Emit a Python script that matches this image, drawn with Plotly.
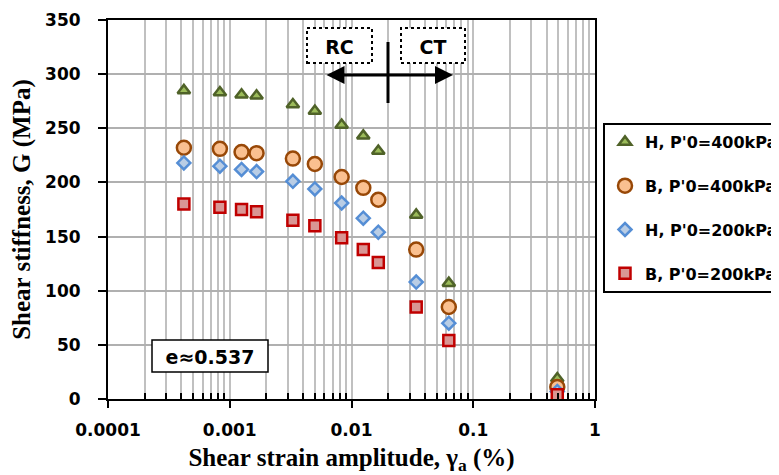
import plotly.graph_objects as go

strain = [0.00042, 0.00083, 0.00125, 0.00166, 0.0033, 0.005, 0.0083, 0.0125, 0.0166, 0.034, 0.063, 0.49]
G_H400 = [285, 283, 281, 280, 272, 266, 253, 243, 229, 170, 107, 19]
G_B400 = [232, 231, 228, 227, 222, 217, 205, 195, 184, 138, 85, 11]
G_H200 = [218, 215, 212, 210, 201, 194, 181, 167, 154, 108, 70, 7]
G_B200 = [180, 177, 175, 173, 165, 160, 149, 138, 126, 85, 54, 4]

names = ["H, P'0=400kPa", "B, P'0=400kPa", "H, P'0=200kPa", "B, P'0=200kPa"]
x_tickvals = [0.0001, 0.001, 0.01, 0.1, 1]
x_ticktext = ["0.0001", "0.001", "0.01", "0.1", "1"]
y_tickvals = [0, 50, 100, 150, 200, 250, 300, 350]

minor_vals = [m * 10 ** e for e in range(-4, 0) for m in range(2, 10)]

SANS = "'DejaVu Sans', sans-serif"
SERIF = "'Liberation Serif', 'Times New Roman', serif"
TICKFONT = dict(family=SANS, size=17, color="black", weight="bold")
TITLEFONT = dict(family=SERIF, size=25, color="black", weight="bold")

fig = go.Figure()
styles = [
    dict(symbol="triangle-up", size=11, color="#9bbb59", line=dict(color="#4f6228", width=2.5)),
    dict(symbol="circle", size=14, color="#fac090", line=dict(color="#984807", width=2.5)),
    dict(symbol="diamond", size=10, color="#b9cde5", line=dict(color="#558ed5", width=2.5)),
    dict(symbol="square", size=11, color="#d99694", line=dict(color="#c00000", width=2.5)),
]
for name, ys, st in zip(names, [G_H400, G_B400, G_H200, G_B200], styles):
    fig.add_trace(go.Scatter(x=strain, y=ys, mode="markers", name=name, marker=st,
                             legendgroup=name))

fig.update_xaxes(type="log", range=[-4, 0], tickvals=x_tickvals, ticktext=x_ticktext,
                 showline=True, linecolor="black", linewidth=2, mirror=True,
                 ticks="outside", ticklen=7, tickwidth=2, tickcolor="black",
                 ticklabelstandoff=8,
                 showgrid=True, gridcolor="#c0c0c0", gridwidth=1.5,
                 minor=dict(tickvals=minor_vals, ticks="inside", ticklen=6, tickwidth=2,
                            tickcolor="black", showgrid=True, gridcolor="#c0c0c0", gridwidth=1.5),
                 tickfont=TICKFONT, zeroline=False,
                 title=dict(text="Shear strain amplitude, γ<sub>a</sub> (%)", font=TITLEFONT, standoff=10))
fig.update_yaxes(range=[0, 350], tickvals=y_tickvals,
                 showline=True, linecolor="black", linewidth=2, mirror=True,
                 ticks="outside", ticklen=8, tickwidth=2, tickcolor="black",
                 ticklabelstandoff=14,
                 showgrid=True, gridcolor="#b0b0b0", gridwidth=1.5, zeroline=False,
                 tickfont=TICKFONT,
                 title=dict(text="Shear stiffness, G (MPa)", font=TITLEFONT, standoff=12))

def px(x):
    return (x - 108) / 487

def py(y):
    return (399 - y) / 379

LABFONT = dict(family=SANS, size=19, color="black")
shapes = [
    dict(type="rect", xref="paper", yref="paper", x0=px(307), x1=px(372), y0=py(63), y1=py(28),
         line=dict(color="black", width=2, dash="dot"), fillcolor="white", layer="above",
         label=dict(text="<b>RC</b>", font=LABFONT, textposition="middle center")),
    dict(type="rect", xref="paper", yref="paper", x0=px(401), x1=px(465), y0=py(63), y1=py(28),
         line=dict(color="black", width=2, dash="dot"), fillcolor="white", layer="above",
         label=dict(text="<b>CT</b>", font=LABFONT, textposition="middle center")),
    dict(type="line", xref="paper", yref="paper", x0=px(388), x1=px(388), y0=py(42), y1=py(103),
         line=dict(color="black", width=3)),
    dict(type="rect", xref="paper", yref="paper", x0=px(152), x1=px(268), y0=py(372), y1=py(340),
         line=dict(color="black", width=1.5), fillcolor="white", layer="above",
         label=dict(text="<b>e≈0.537</b>", font=LABFONT, textposition="middle center")),
]
fig.update_layout(shapes=shapes)

fig.add_annotation(x=px(453), y=py(75), xref="paper", yref="paper", text="",
                   showarrow=True, ax=-128, ay=0, arrowside="end+start", arrowhead=2,
                   startarrowhead=2, arrowsize=1.2, startarrowsize=1.2, arrowwidth=3, arrowcolor="black",
                   standoff=0, startstandoff=0)

# the page adds an 8px body margin, so the figure is sized/margined to compensate
fig.update_layout(
    width=771, height=467,
    margin=dict(l=100, r=184, t=12, b=76, autoexpand=False),
    paper_bgcolor="white", plot_bgcolor="white",
    legend=dict(x=px(603), y=py(123), xanchor="left", yanchor="top",
                bordercolor="black", borderwidth=2, bgcolor="white",
                font=dict(family=SANS, size=16, color="black", weight="bold"),
                tracegroupgap=20, traceorder="grouped", itemwidth=30),
    showlegend=True,
)

fig.write_html("out.html")
